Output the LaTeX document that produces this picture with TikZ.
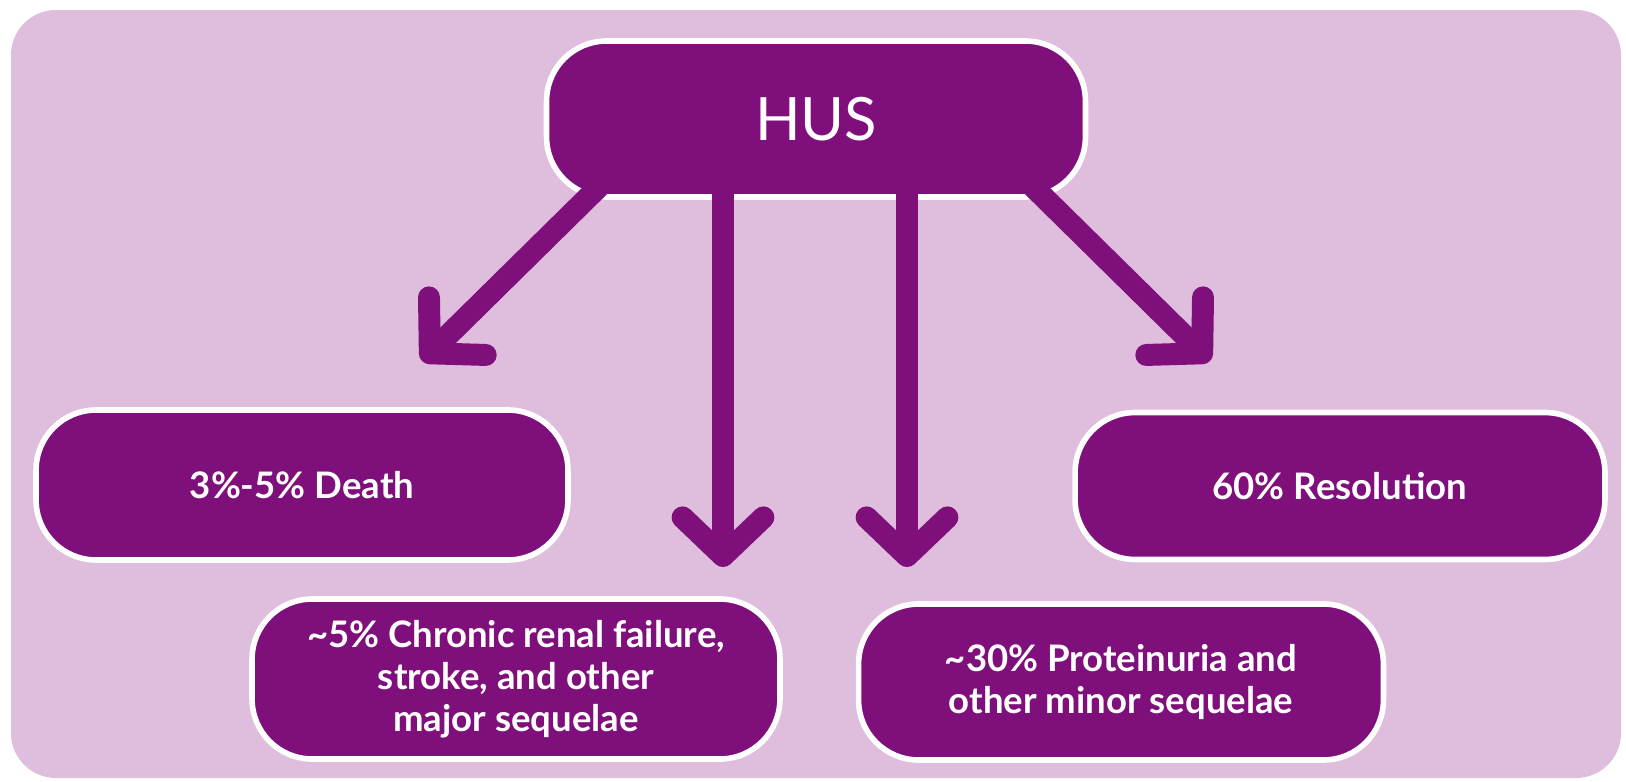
\documentclass[tikz,border=0pt]{standalone}
\usepackage{fontspec}
\setmainfont{Lato}
\usetikzlibrary{arrows.meta,calc}
\definecolor{husplum}{HTML}{7E0F7B}
\definecolor{huslilac}{HTML}{DFBDDD}

\begin{document}
\begin{tikzpicture}[x=0.02cm, y=-0.02cm,
    outcome/.style={draw=white, line width=3.2pt, fill=husplum, text=white,
        rounded corners=1.2cm, align=center, inner sep=0pt,
        font=\bfseries\fontsize{20.8}{24}\selectfont},
    flow/.style={husplum, line width=12.5pt,
        -{Straight Barb[length=22pt, width=46pt, round]}}]
    % Background panel
    \useasboundingbox (0,0) rectangle (1626,781);
    \fill[huslilac, rounded corners=0.9cm] (11,10) rectangle (1621,778);

    % Source box
    \node[outcome, minimum width=10.78cm, minimum height=3.12cm,
        font=\fontsize{34}{40}\selectfont] (hus) at (816,119) {HUS};

    % Outcome boxes
    \node[outcome, minimum width=10.64cm, minimum height=3cm] (death) at (302,485) {3\%-5\% Death};
    \node[outcome, minimum width=10.6cm, minimum height=2.94cm] (resol) at (1340,486) {60\% Resolution};
    \node[outcome, minimum width=10.56cm, minimum height=3.2cm] (chronic) at (516,679)
        {\textasciitilde5\% Chronic renal failure,\\ stroke, and other\\ major sequelae};
    \node[outcome, minimum width=10.5cm, minimum height=3.12cm] (protein) at (1121,682)
        {\textasciitilde30\% Proteinuria and\\ other minor sequelae};

    % Arrow ends
    \coordinate (tipdeath) at (422,361);
    \coordinate (tipchronic) at (723,567);
    \coordinate (tipprotein) at (907,567);
    \coordinate (tipresol) at (1210,361);

    % Arrows from HUS
    \draw[flow] ($(hus.south)+(-203,-27)$) -- (tipdeath);
    \draw[flow] ($(hus.south)+(203,-27)$) -- (tipresol);
    \foreach \dest in {tipchronic, tipprotein}
        \draw[flow] ($(hus.south -| \dest)+(0,-30)$) -- (\dest);
\end{tikzpicture}
\end{document}
